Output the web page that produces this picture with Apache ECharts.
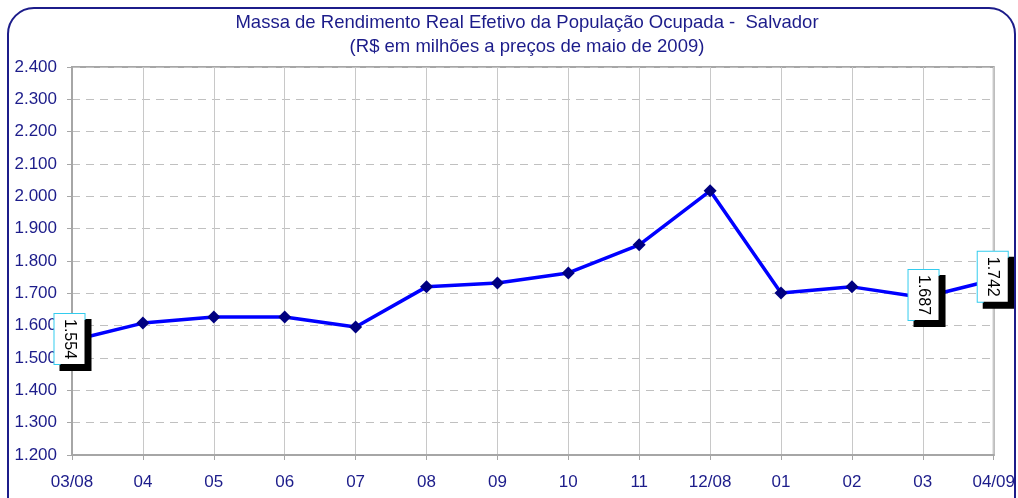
<!DOCTYPE html>
<html><head><meta charset="utf-8">
<script src="https://cdn.jsdelivr.net/npm/echarts@6/dist/echarts.min.js"></script>
<style>html,body{margin:0;padding:0;background:#fff}#c{width:1018px;height:498px}</style>
</head><body><div id="c"></div>
<script>
var titleLines = ['Massa de Rendimento Real Efetivo da População Ocupada -  Salvador', '(R$ em milhões a preços de maio de 2009)'];
var categories = ['03/08','04','05','06','07','08','09','10','11','12/08','01','02','03','04/09'];
var values = [1554,1608,1627,1627,1596,1720,1732,1763,1850,2017,1701,1720,1687,1742];
var labeledIndices = [0,12,13];
var labelOffsets = {0:[-1.5,2.5],12:[-2.5,-0.7],13:[-3,1]};
var yTicks = {min:1200, max:2400, step:100};

function fmt(v){ var s=String(Math.round(v)); return s.length>3 ? s.slice(0,s.length-3)+'.'+s.slice(-3) : s; }

var navy = '#1c1c8a';
var data = values.map(function(v,i){
  var item = {value:v};
  if (labeledIndices.indexOf(i) >= 0) {
    item.label = {show:true, offset: labelOffsets[i] || [0,0]};
  }
  return item;
});

var chart = echarts.init(document.getElementById('c'), null, {renderer:'canvas'});
chart.setOption({
  animation:false,
  backgroundColor:'#fff',
  title:{
    text: titleLines.join('\n'), left:522, textAlign:'center', top:6,
    textStyle:{color:navy, fontFamily:'Liberation Sans', fontSize:18.5, fontWeight:'normal', lineHeight:24}
  },
  graphic:[{
    type:'rect', shape:{x:8,y:8,width:1007,height:520,r:26},
    style:{fill:'none', stroke:navy, lineWidth:2}, z:100
  }],
  grid:{left:72, right:17, top:67, bottom:43, show:true, borderColor:'#a6a6a6', borderWidth:2, backgroundColor:'transparent'},
  xAxis:{
    type:'category', data:categories, boundaryGap:false,
    axisLine:{lineStyle:{color:'#a6a6a6', width:2}},
    axisTick:{show:true, length:5, lineStyle:{color:'#a6a6a6'}},
    axisLabel:{color:navy, fontFamily:'Liberation Sans', fontSize:17, margin:19},
    splitLine:{show:true, lineStyle:{color:'#c8c8c8', width:1}}
  },
  yAxis:{
    type:'value', min:yTicks.min, max:yTicks.max, interval:yTicks.step,
    axisLine:{show:true, lineStyle:{color:'#a6a6a6', width:2}},
    axisTick:{show:true, length:5, lineStyle:{color:'#a6a6a6'}},
    axisLabel:{color:navy, fontFamily:'Liberation Sans', fontSize:17, margin:15, formatter:fmt},
    splitLine:{show:true, lineStyle:{color:'#c0c0c0', type:[8,6], width:1}}
  },
  series:[{
    type:'line', data:data,
    lineStyle:{color:'#0000ff', width:3.5},
    itemStyle:{color:'#000080'},
    symbol:'diamond', symbolSize:13,
    label:{
      show:false, position:'inside', rotate:-90, formatter:function(p){return fmt(p.value);},
      color:'#000', fontFamily:'Liberation Sans', fontSize:16,
      backgroundColor:'#fff', borderColor:'#33ccee', borderWidth:1, padding:[7,5,7,5],
      shadowColor:'#000', shadowBlur:0, shadowOffsetX:6, shadowOffsetY:6
    },
    z:5
  }]
});
</script></body></html>
